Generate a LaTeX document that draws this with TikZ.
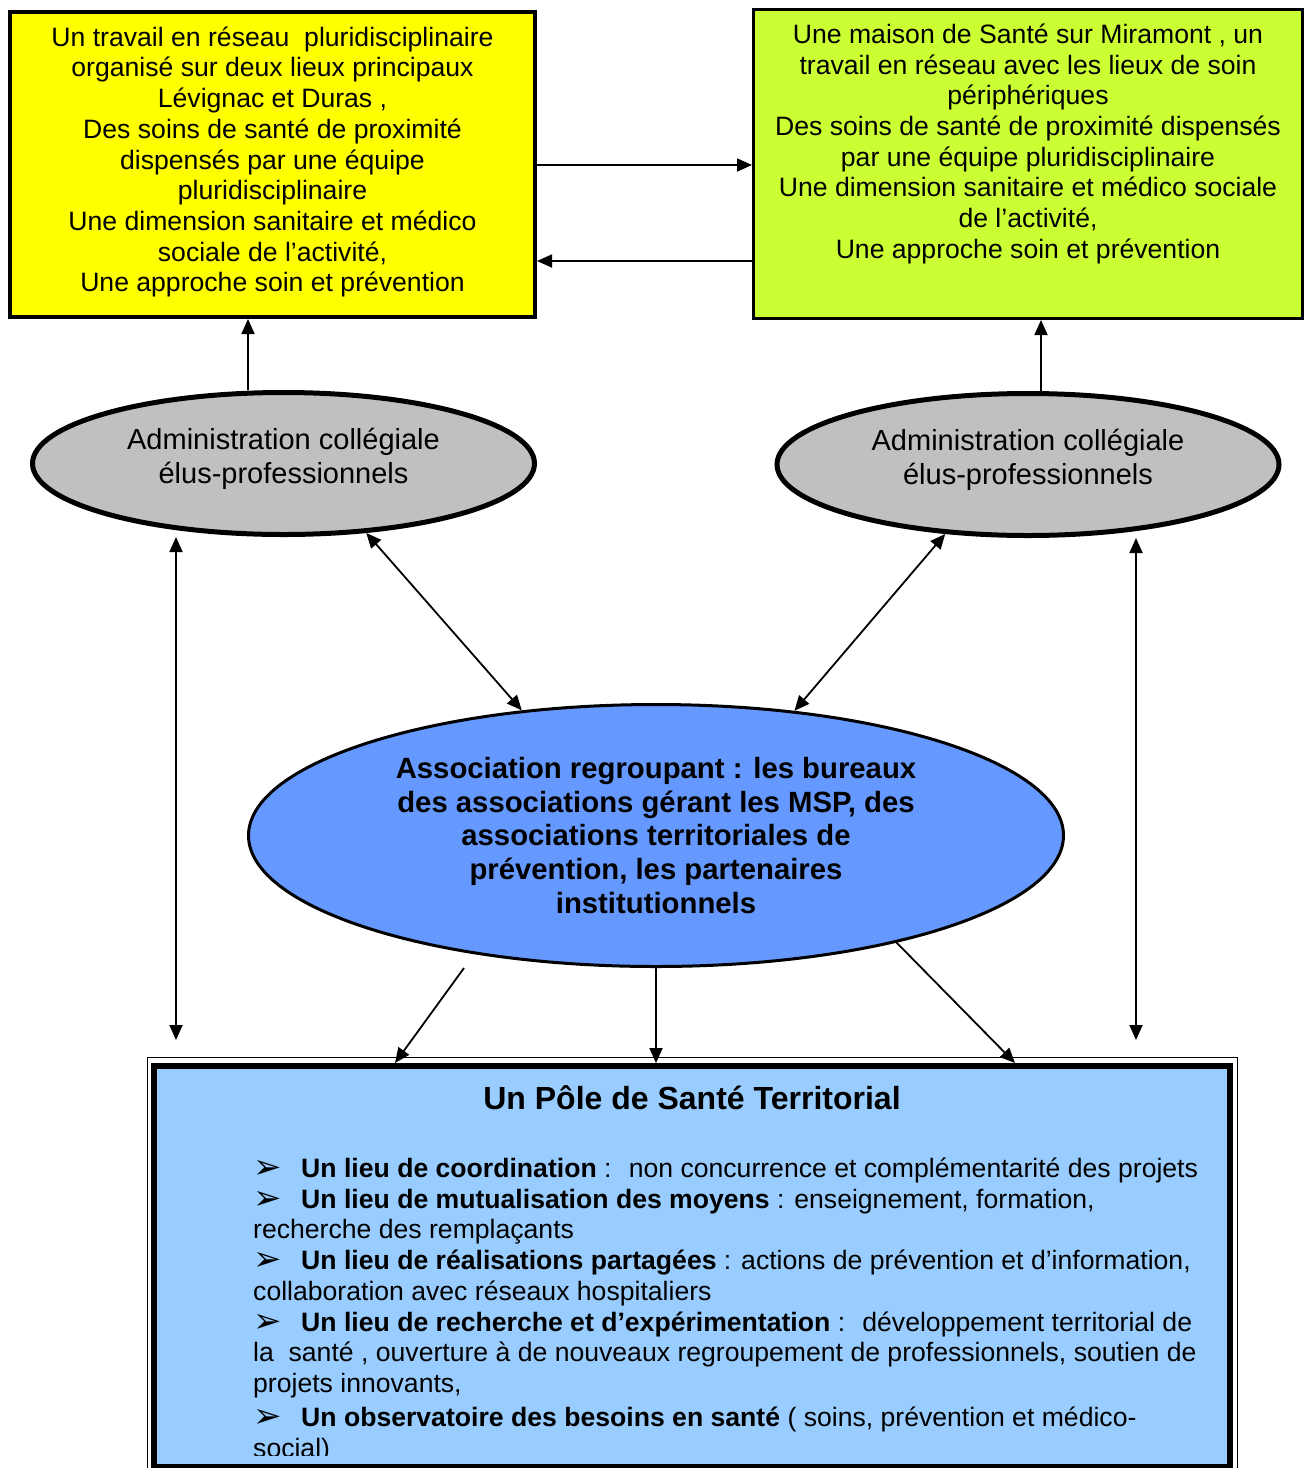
\documentclass[tikz,border=0pt]{standalone}
\usepackage{fontspec}
\setmainfont{Liberation Sans}
\newfontfamily\dejavu{DejaVu Sans}
\usetikzlibrary{arrows.meta,shapes.geometric}
\definecolor{cyel}{HTML}{FFFF00}
\definecolor{cgrn}{HTML}{CCFF33}
\definecolor{cgry}{HTML}{C0C0C0}
\definecolor{cblu}{HTML}{6699FF}
\definecolor{clbl}{HTML}{99CCFF}
\newcommand\mybul{\makebox[48pt][l]{\raisebox{-1pt}{\dejavu\fontsize{34}{34}\selectfont ➢}}}
\begin{document}
\begin{tikzpicture}[x=1pt,y=-1pt,
  boxtxt/.style={font=\fontsize{26.6}{30.7}\selectfont, align=center, inner sep=0pt, anchor=north},
  elltxt/.style={font=\fontsize{29}{33.4}\selectfont, align=center, inner sep=0pt},
  ellgrey/.style={ellipse, draw, line width=5pt, fill=cgry, inner sep=0pt, minimum width=502pt, minimum height=142pt},
  arr/.style={line width=1.8pt, -{Triangle[length=15pt,width=13pt]}},
  darr/.style={line width=1.8pt, {Triangle[length=15pt,width=13pt]}-{Triangle[length=15pt,width=13pt]}},
  listline/.style={anchor=base west, inner sep=0pt, font=\fontsize{26.6}{30.7}\selectfont}]
\useasboundingbox (0,0) rectangle (1305,1468);
\clip (0,0) rectangle (1305,1468);

% top boxes
\node[draw, line width=4pt, fill=cyel, minimum width=525pt, minimum height=305pt, inner sep=0pt] (yel) at (272.5,164.5) {};
\node[boxtxt] (yeltxt) at ([yshift=-16.5pt]yel.north) {Un travail en réseau~ pluridisciplinaire\\organisé sur deux lieux principaux\\Lévignac et Duras ,\\Des soins de santé de proximité\\dispensés par une équipe\\pluridisciplinaire\\Une dimension sanitaire et médico\\sociale de l’activité,\\Une approche soin et prévention};

\node[draw, line width=3pt, fill=cgrn, minimum width=549pt, minimum height=309pt, inner sep=0pt] (grn) at (1028,164) {};
\node[boxtxt] (grntxt) at ([yshift=-15.6pt]grn.north) {Une maison de Santé sur Miramont , un\\travail en réseau avec les lieux de soin\\périphériques\\Des soins de santé de proximité dispensés\\par une équipe pluridisciplinaire\\Une dimension sanitaire et médico sociale\\de l’activité,\\Une approche soin et prévention};

% grey ellipses
\node[ellgrey] (lell) at (283.5,463.5) {};
\node[elltxt] (lelltxt) at ([yshift=4.5pt]lell.center) {Administration collégiale\\élus-professionnels};
\node[ellgrey] (rell) at (1028,464.5) {};
\node[elltxt] (relltxt) at ([yshift=4.5pt]rell.center) {Administration collégiale\\élus-professionnels};

% blue ellipse
\node[ellipse, draw, line width=3pt, fill=cblu, minimum width=815pt, minimum height=262pt, inner sep=0pt, align=center, font=\bfseries\fontsize{29.3}{33.7}\selectfont] (blue) at (656,835.5) {Association regroupant : les bureaux\\des associations gérant les MSP, des\\associations territoriales de\\prévention, les partenaires\\institutionnels};

% bottom box
\draw[line width=1.5pt] (147.5,1057.5) rectangle (1237.5,1490);
\node[draw, line width=6pt, fill=clbl, minimum width=1076pt, minimum height=401pt, inner sep=0pt] (pole) at (692,1266.5) {};
\node[font=\bfseries\fontsize{32}{36}\selectfont, anchor=base, inner sep=0pt] (title) at (692,1109) {Un Pôle de Santé Territorial};

\begin{scope}
\clip (150,1070) rectangle (1230,1455.5);
\node[listline] (l1) at (253,1177.5) {\mybul\textbf{Un lieu de coordination} :~ non concurrence et complémentarité des projets};
\node[listline] (l2) at (253,1208.2) {\mybul\textbf{Un lieu de mutualisation des moyens} : enseignement, formation,};
\node[listline] (l3) at (253,1238.9) {recherche des remplaçants};
\node[listline] (l4) at (253,1269.6) {\mybul\textbf{Un lieu de réalisations partagées} : actions de prévention et d’information,};
\node[listline] (l5) at (253,1300.3) {collaboration avec réseaux hospitaliers};
\node[listline] (l6) at (253,1331) {\mybul\textbf{Un lieu de recherche et d’expérimentation} :~ développement territorial de};
\node[listline] (l7) at (253,1361.7) {la~ santé , ouverture à de nouveaux regroupement de professionnels, soutien de};
\node[listline] (l8) at (253,1392.4) {projets innovants,};
\node[listline] (l9) at (253,1426.5) {\mybul\textbf{Un observatoire des besoins en santé} ( soins, prévention et médico-};
\node[listline] (l10) at (253,1457) {social)};
\end{scope}

% connectors
\draw[arr] (yel.east |- 0,165) -- (grn.west |- 0,165);
\draw[arr] (grn.west |- 0,261) -- (yel.east |- 0,261);
\draw[arr] (lell.north -| 248,0) -- (yel.south -| 248,0);
\draw[arr] (rell.north -| 1041,0) -- (grn.south -| 1041,0);
\coordinate (lend) at (176,1040);
\coordinate (rend) at (1136,1040);
\draw[darr] (lell.south -| 176,0) -- (lend);
\draw[darr] (rell.south -| 1136,0) -- (rend);
\draw[darr] (lell.-40.4) -- (blue.137.4);
\draw[darr] (rell.220.8) -- (blue.42.2);
\draw[arr] (blue.south -| 464,0) -- (pole.north -| 395,0);
\draw[arr] (blue.south) -- (pole.north -| blue.south);
\draw[arr] (blue.-24.4) -- (pole.north -| 1015,0);
\end{tikzpicture}
\end{document}
